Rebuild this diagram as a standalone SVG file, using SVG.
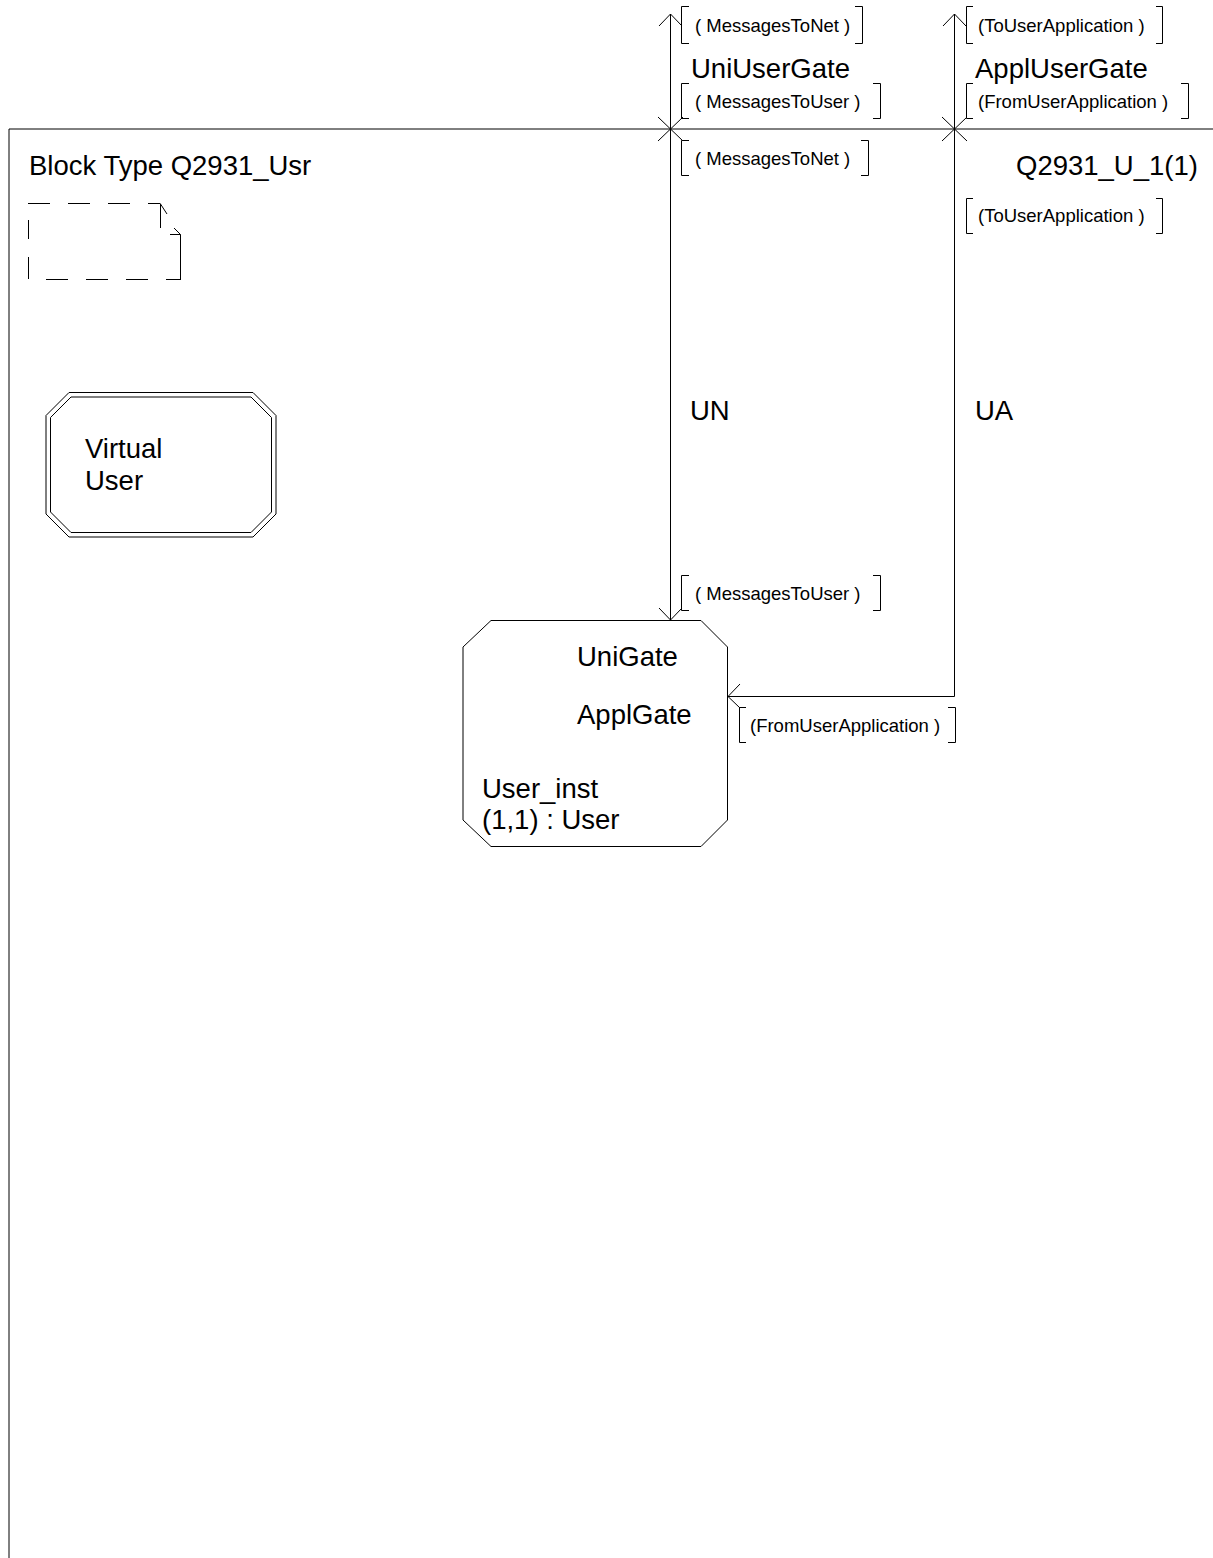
<svg xmlns="http://www.w3.org/2000/svg" width="1213" height="1558" viewBox="0 0 1213 1558">
<style>
.ln{fill:none;stroke:#000;stroke-width:1}
.t{font-family:"Liberation Sans",Arial,sans-serif;font-size:27.5px;fill:#000}
.s{font-family:"Liberation Sans",Arial,sans-serif;font-size:18.5px;fill:#000}
.d{fill:none;stroke:#000;stroke-width:1;stroke-dasharray:22,18}
</style>
<rect width="1213" height="1558" fill="#fff"/>
<g id="frame">
<path class="ln" d="M9,1558 V129 H1213"/>
<text class="t" x="29" y="175">Block Type Q2931_Usr</text>
<text class="t" x="1016" y="175">Q2931_U_1(1)</text>
</g>
<g id="page-icon">
<path class="d" d="M28,203.5 H160"/>
<path class="ln" d="M160.5,203.5 V228 M160.5,204 L167,214"/>
<path class="ln" d="M170,234.5 H180.5 V280 M174,228 L180.5,234.5"/>
<path class="d" d="M180,279.5 H28" style="stroke-dashoffset:8"/>
<path class="d" d="M28.5,279 V220"/>
</g>
<g id="virtual-user">
<polygon class="ln" points="69,392.5 253,392.5 276,415.5 276,514 253,537 69,537 46,514 46,415.5"/>
<polygon class="ln" points="71,397 251,397 271.5,417.5 271.5,512 251,532.5 71,532.5 50.5,512 50.5,417.5"/>
<text class="t" x="85" y="458">Virtual</text>
<text class="t" x="85" y="490">User</text>
</g>
<g id="user-inst">
<polygon class="ln" points="491,620.5 701,620.5 727.5,647 727.5,820 701,846.5 491,846.5 463,820 463,647"/>
<text class="t" x="577" y="666">UniGate</text>
<text class="t" x="577" y="724">ApplGate</text>
<text class="t" x="482" y="798">User_inst</text>
<text class="t" x="482" y="829">(1,1) : User</text>
</g>
<g id="gates">
<text class="t" x="691" y="78">UniUserGate</text>
<text class="t" x="975" y="78">ApplUserGate</text>
</g>
<g id="connectors">
<path class="ln" d="M670.5,14 V620"/>
<path class="ln" d="M659,26 L670.5,14 L682,26"/>
<path class="ln" d="M659,608 L670.5,620 L682,608"/>
<path class="ln" d="M658,117 L683,141 M683,117 L658,141"/>
<path class="ln" d="M954.5,14 V696.5 H728"/>
<path class="ln" d="M943,26 L954.5,14 L966,26"/>
<path class="ln" d="M740,684 L728,696.5 L740,708"/>
<path class="ln" d="M942,117 L967,141 M967,117 L942,141"/>
<text class="t" x="690" y="420">UN</text>
<text class="t" x="975" y="420">UA</text>
</g>
<g id="signal-lists">
<path class="ln" d="M689,6.5 H681.5 V43.5 H689 M855,6.5 H862.5 V43.5 H855"/>
<text class="s" x="695" y="32">( MessagesToNet )</text>
<path class="ln" d="M689,83.5 H681.5 V118.5 H689 M873,83.5 H880.5 V118.5 H873"/>
<text class="s" x="695" y="108">( MessagesToUser )</text>
<path class="ln" d="M689,140.5 H681.5 V175.5 H689 M861,140.5 H868.5 V175.5 H861"/>
<text class="s" x="695" y="165">( MessagesToNet )</text>
<path class="ln" d="M973,6.5 H966.5 V43.5 H973 M1156,6.5 H1162.5 V43.5 H1156"/>
<text class="s" x="978" y="32">(ToUserApplication )</text>
<path class="ln" d="M973,83.5 H966.5 V118.5 H973 M1181,83.5 H1188.5 V118.5 H1181"/>
<text class="s" x="978" y="108">(FromUserApplication )</text>
<path class="ln" d="M973,198.5 H966.5 V233.5 H973 M1156,198.5 H1162.5 V233.5 H1156"/>
<text class="s" x="978" y="222">(ToUserApplication )</text>
<path class="ln" d="M689,575.5 H681.5 V610.5 H689 M873,575.5 H880.5 V610.5 H873"/>
<text class="s" x="695" y="600">( MessagesToUser )</text>
<path class="ln" d="M746,707.5 H739.5 V742.5 H746 M948,707.5 H955.5 V742.5 H948"/>
<text class="s" x="750" y="732">(FromUserApplication )</text>
</g>
</svg>
